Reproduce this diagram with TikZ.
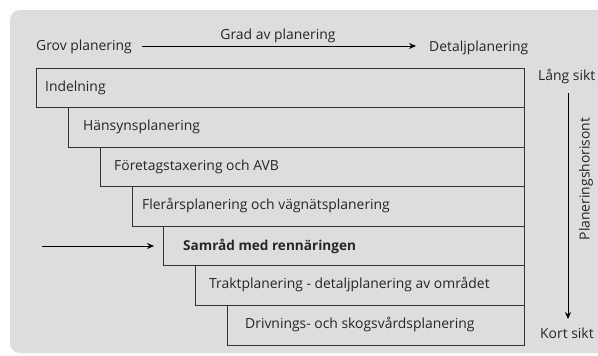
\documentclass[tikz,border=0pt]{standalone}
\usepackage{fontspec}
\setmainfont{Open Sans}
\usetikzlibrary{arrows.meta}
\begin{document}
\begin{tikzpicture}[x=1pt,y=-1pt,
  lbl/.style={inner sep=0pt,font=\fontsize{13.9}{15}\selectfont,text=black!85},
  stepbox/.style={draw=black!80,line width=0.9pt},
  arr/.style={line width=1pt,-{Stealth[length=7pt,width=6pt]}}]
\useasboundingbox (0,0) rectangle (598,356);
\fill[fill=white] (0,0) rectangle (598,356);
\fill[fill=gray!27,rounded corners=10pt] (10,10) rectangle (608,353);
% boxes
\foreach \l/\t/\b in {36/68/107.5, 68/107.5/147, 100/147/186.5, 132/186.5/226, 163/226/265.5, 195/265.5/305, 227/305/345}{
  \draw[stepbox] (\l,\t) rectangle (524,\b);
}
\node[lbl,anchor=west] (b1) at (45,88) {Indelning};
\node[lbl,anchor=west] (b2) at (83,127) {Hänsynsplanering};
\node[lbl,anchor=west] (b3) at (114,167) {Företagstaxering och AVB};
\node[lbl,anchor=west] (b4) at (142,206) {Flerårsplanering och vägnätsplanering};
\node[lbl,anchor=west,font=\fontsize{13.6}{15}\selectfont\bfseries] (b5) at (183,246) {Samråd med rennäringen};
\node[lbl,anchor=west] (b6) at (209,285) {Traktplanering - detaljplanering av området};
\node[lbl,anchor=west] (b7) at (245,325) {Drivnings- och skogsvårdsplanering};
% top axis
\node[lbl,anchor=west] (grov) at (36,47) {Grov planering};
\node[lbl,anchor=west] (det) at (429,48) {Detaljplanering};
\node[lbl] (grad) at (278,36) {Grad av planering};
\coordinate (ga) at (142,46);
\coordinate (gb) at (416,46);
\draw[arr] (ga) -- (gb);
% right axis
\node[lbl,anchor=west] (lang) at (538,77) {Lång sikt};
\node[lbl,anchor=west] (kort) at (540,333) {Kort sikt};
\coordinate (va) at (568,93);
\coordinate (vb) at (568,319);
\draw[arr] (va) -- (vb);
\node[lbl,rotate=90] (hor) at (586,179) {Planeringshorisont};
% left arrow
\coordinate (la) at (42,246);
\coordinate (lb) at (154,246);
\draw[arr] (la) -- (lb);
\end{tikzpicture}
\end{document}
